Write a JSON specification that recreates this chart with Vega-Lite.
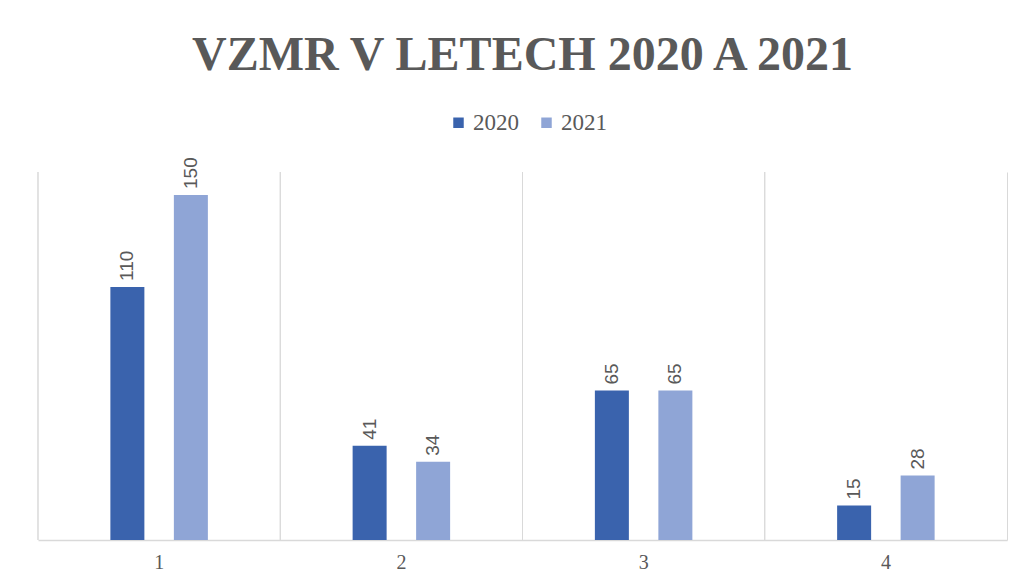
{
  "$schema": "https://vega.github.io/schema/vega-lite/v6.json",
  "width": 969,
  "height": 368,
  "autosize": "none",
  "padding": {"left": 38, "top": 172, "right": 14, "bottom": 48},
  "background": "white",
  "title": {
    "text": "VZMR V LETECH 2020 A 2021",
    "font": "Liberation Serif",
    "fontSize": 48,
    "fontWeight": "bold",
    "color": "#595959",
    "anchor": "middle",
    "baseline": "alphabetic",
    "offset": 38,
    "dy": 45
  },
  "data": {
    "values": [
      {"cat": "1", "year": "2020", "value": 110},
      {"cat": "1", "year": "2021", "value": 150},
      {"cat": "2", "year": "2020", "value": 41},
      {"cat": "2", "year": "2021", "value": 34},
      {"cat": "3", "year": "2020", "value": 65},
      {"cat": "3", "year": "2021", "value": 65},
      {"cat": "4", "year": "2020", "value": 15},
      {"cat": "4", "year": "2021", "value": 28}
    ]
  },
  "encoding": {
    "x": {
      "field": "cat",
      "type": "nominal",
      "scale": {"paddingInner": 0, "paddingOuter": 0},
      "axis": {
        "title": null,
        "labelAngle": 0,
        "labelFont": "Liberation Serif",
        "labelFontSize": 20,
        "labelColor": "#595959",
        "ticks": false,
        "grid": false,
        "domainColor": "#D9D9D9",
        "domainWidth": 1.5,
        "labelPadding": 12
      }
    }
  },
  "layer": [
    {
      "mark": {"type": "rule", "color": "#D9D9D9", "strokeWidth": 1},
      "encoding": {
        "x": {"field": "cat", "type": "nominal", "bandPosition": 0}
      }
    },
    {
      "mark": {"type": "bar", "width": 34},
      "encoding": {
        "xOffset": {
          "field": "year",
          "type": "nominal",
          "scale": {"paddingInner": 0.185, "paddingOuter": 1}
        },
        "y": {
          "field": "value",
          "type": "quantitative",
          "scale": {"domain": [0, 160], "nice": false},
          "axis": {
            "orient": "right",
            "labels": false,
            "ticks": false,
            "grid": false,
            "title": null,
            "domainColor": "#D9D9D9",
            "domainWidth": 1
          }
        },
        "color": {
          "field": "year",
          "type": "nominal",
          "scale": {"domain": ["2020", "2021"], "range": ["#3A63AD", "#8FA5D6"]},
          "legend": {
            "title": null,
            "orient": "none",
            "direction": "horizontal",
            "legendX": 409,
            "legendY": -61,
            "padding": 0,
            "symbolType": "square",
            "symbolSize": 110,
            "symbolStrokeWidth": 0,
            "labelFont": "Liberation Serif",
            "labelFontSize": 23,
            "labelColor": "#595959",
            "labelOffset": 3,
            "columnPadding": 16
          }
        }
      }
    },
    {
      "mark": {
        "type": "text",
        "angle": 270,
        "align": "left",
        "baseline": "middle",
        "dx": 6,
        "font": "Liberation Sans",
        "fontSize": 19,
        "color": "#595959"
      },
      "encoding": {
        "xOffset": {"field": "year", "type": "nominal"},
        "y": {"field": "value", "type": "quantitative"},
        "text": {"field": "value", "type": "quantitative"}
      }
    }
  ],
  "config": {"view": {"stroke": null}}
}
